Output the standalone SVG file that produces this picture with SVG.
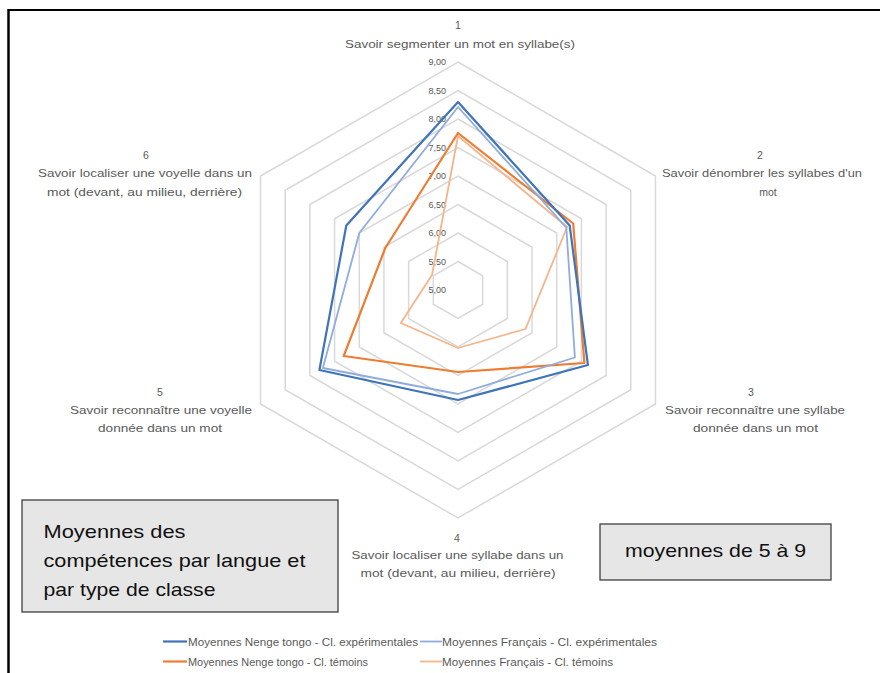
<svg xmlns="http://www.w3.org/2000/svg" width="880" height="673" viewBox="0 0 880 673">
<style>
.grid{fill:none;stroke:#d9d9d9;stroke-width:1.5}
.lbl{font-family:"Liberation Sans",Arial,sans-serif;font-size:10.5px;fill:#595959;text-anchor:middle}
.tick{font-family:"Liberation Sans",Arial,sans-serif;font-size:9px;fill:#595959;text-anchor:end}
.leg{font-family:"Liberation Sans",Arial,sans-serif;font-size:10.5px;fill:#595959}
.box{fill:#e7e6e6;stroke:#3f3f3f;stroke-width:1.3}
.boxt{font-family:"Liberation Sans",Arial,sans-serif;font-size:19px;fill:#111}
.s1{fill:none;stroke:#3e74b8;stroke-width:2.2;stroke-linejoin:round}
.s2{fill:none;stroke:#90acdc;stroke-width:1.8;stroke-linejoin:round}
.s3{fill:none;stroke:#ed7d31;stroke-width:2.2;stroke-linejoin:round}
.s4{fill:none;stroke:#f6b48a;stroke-width:1.8;stroke-linejoin:round}
</style>
<rect width="880" height="673" fill="#ffffff"/>
<g id="frame">
<line x1="8" y1="10" x2="880" y2="10" stroke="#000" stroke-width="2"/>
<line x1="8.5" y1="9" x2="8.5" y2="673" stroke="#000" stroke-width="2.5"/>
</g>
<g id="grid">
<polygon class="grid" points="458,261.5 482.68,275.75 482.68,304.25 458,318.5 433.32,304.25 433.32,275.75"/>
<polygon class="grid" points="458,233 507.36,261.5 507.36,318.5 458,347 408.64,318.5 408.64,261.5"/>
<polygon class="grid" points="458,204.5 532.04,247.25 532.04,332.75 458,375.5 383.96,332.75 383.96,247.25"/>
<polygon class="grid" points="458,176 556.72,233 556.72,347 458,404 359.28,347 359.28,233"/>
<polygon class="grid" points="458,147.5 581.41,218.75 581.41,361.25 458,432.5 334.59,361.25 334.59,218.75"/>
<polygon class="grid" points="458,119 606.09,204.5 606.09,375.5 458,461 309.91,375.5 309.91,204.5"/>
<polygon class="grid" points="458,90.5 630.77,190.25 630.77,389.75 458,489.5 285.23,389.75 285.23,190.25"/>
<polygon class="grid" points="458,62 655.45,176 655.45,404 458,518 260.55,404 260.55,176"/>
</g>
<g id="ticks">
<text class="tick" x="446" y="293">5,00</text>
<text class="tick" x="446" y="264.5">5,50</text>
<text class="tick" x="446" y="236">6,00</text>
<text class="tick" x="446" y="207.5">6,50</text>
<text class="tick" x="446" y="179">7,00</text>
<text class="tick" x="446" y="150.5">7,50</text>
<text class="tick" x="446" y="122">8,00</text>
<text class="tick" x="446" y="93.5">8,50</text>
<text class="tick" x="446" y="65">9,00</text>
</g>
<g id="connectors">
<polygon id="series-fr-temoins" class="s4" points="458,136 567.1,227 525.5,329 458,348 400.8,323 432,275"/>
<polygon id="series-nt-temoins" class="s3" points="458,133 573.2,223.5 584.4,363 458,372 343.7,356 385.3,248"/>
<polygon id="series-fr-exp" class="s2" points="458,107 566.3,227.5 574.9,357.5 458,394 322.9,368 359.3,233"/>
<polygon id="series-nt-exp" class="s1" points="458,102 569.7,225.5 587.9,365 458,400 319.4,370 346.3,225.5"/>
</g>
<g id="axis1">
<text class="lbl" x="458" y="29">1</text>
<text class="lbl" x="460" y="48" textLength="230" lengthAdjust="spacingAndGlyphs">Savoir segmenter un mot en syllabe(s)</text>
</g>
<g id="axis2">
<text class="lbl" x="760" y="159">2</text>
<text class="lbl" x="762" y="177" textLength="200" lengthAdjust="spacingAndGlyphs">Savoir dénombrer les syllabes d'un</text>
<text class="lbl" x="768" y="195.5">mot</text>
</g>
<g id="axis3">
<text class="lbl" x="751" y="395.5">3</text>
<text class="lbl" x="755" y="414" textLength="180" lengthAdjust="spacingAndGlyphs">Savoir reconnaître une syllabe</text>
<text class="lbl" x="755.5" y="432" textLength="125" lengthAdjust="spacingAndGlyphs">donnée dans un mot</text>
</g>
<g id="axis4">
<text class="lbl" x="457" y="542">4</text>
<text class="lbl" x="457.5" y="559" textLength="212" lengthAdjust="spacingAndGlyphs">Savoir localiser une syllabe dans un</text>
<text class="lbl" x="458" y="577" textLength="195" lengthAdjust="spacingAndGlyphs">mot (devant, au milieu, derrière)</text>
</g>
<g id="axis5">
<text class="lbl" x="160" y="395.5">5</text>
<text class="lbl" x="161" y="414" textLength="182" lengthAdjust="spacingAndGlyphs">Savoir reconnaître une voyelle</text>
<text class="lbl" x="160" y="432" textLength="124" lengthAdjust="spacingAndGlyphs">donnée dans un mot</text>
</g>
<g id="axis6">
<text class="lbl" x="146" y="159">6</text>
<text class="lbl" x="145" y="177" textLength="214" lengthAdjust="spacingAndGlyphs">Savoir localiser une voyelle dans un</text>
<text class="lbl" x="144.5" y="195.5" textLength="195" lengthAdjust="spacingAndGlyphs">mot (devant, au milieu, derrière)</text>
</g>
<g id="box-title">
<rect class="box" x="22" y="500" width="316" height="112"/>
<text class="boxt" x="43.5" y="537.5" textLength="142" lengthAdjust="spacingAndGlyphs">Moyennes des</text>
<text class="boxt" x="43.5" y="567" textLength="262" lengthAdjust="spacingAndGlyphs">compétences par langue et</text>
<text class="boxt" x="43.5" y="596" textLength="172" lengthAdjust="spacingAndGlyphs">par type de classe</text>
</g>
<g id="box-range">
<rect class="box" x="600" y="524" width="231" height="56"/>
<text class="boxt" x="625" y="556.5" textLength="181" lengthAdjust="spacingAndGlyphs">moyennes de 5 à 9</text>
</g>
<g id="legend">
<line x1="163" y1="641.5" x2="187" y2="641.5" class="s1"/>
<text class="leg" x="188" y="645.5" textLength="230" lengthAdjust="spacingAndGlyphs">Moyennes Nenge tongo - Cl. expérimentales</text>
<line x1="420" y1="641.5" x2="442" y2="641.5" class="s2"/>
<text class="leg" x="442" y="645.5" textLength="215" lengthAdjust="spacingAndGlyphs">Moyennes Français - Cl. expérimentales</text>
<line x1="163" y1="661.5" x2="187" y2="661.5" class="s3"/>
<text class="leg" x="188" y="665.5" textLength="180" lengthAdjust="spacingAndGlyphs">Moyennes Nenge tongo - Cl. témoins</text>
<line x1="420" y1="661.5" x2="442" y2="661.5" class="s4"/>
<text class="leg" x="442" y="665.5" textLength="171" lengthAdjust="spacingAndGlyphs">Moyennes Français - Cl. témoins</text>
</g>
</svg>
